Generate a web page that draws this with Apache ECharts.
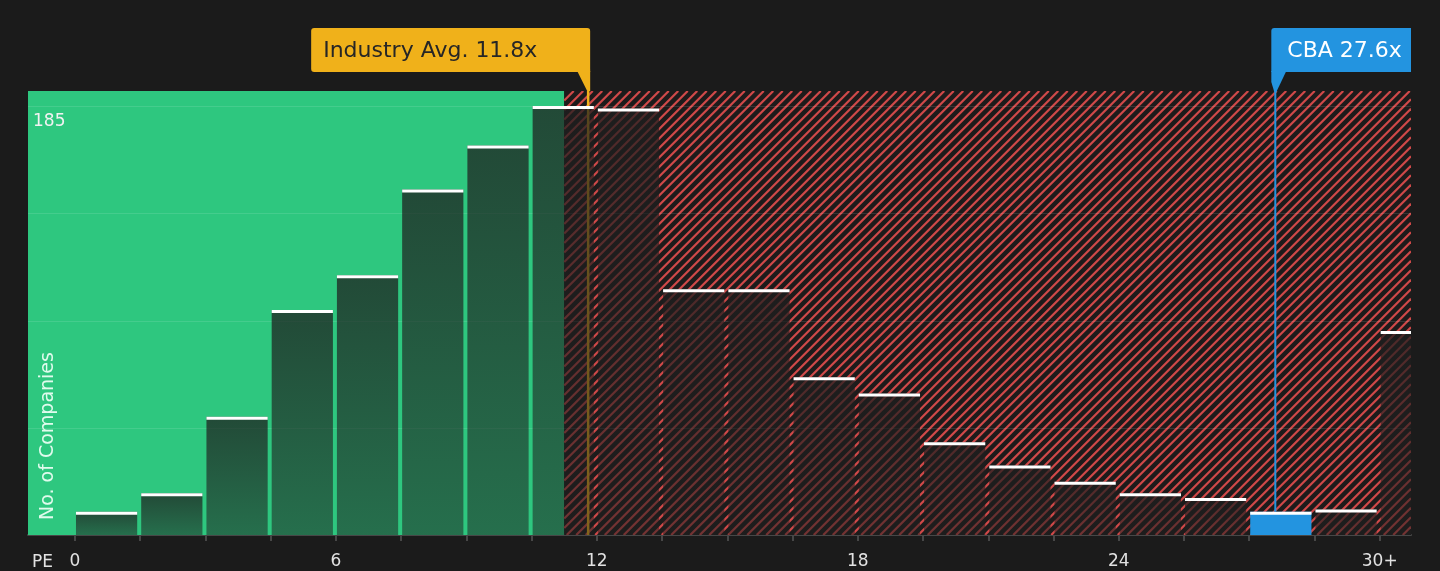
<!DOCTYPE html>
<html>
<head>
<meta charset="utf-8">
<script src="https://cdn.jsdelivr.net/npm/echarts@6/dist/echarts.min.js"></script>
<style>
  html, body { margin: 0; padding: 0; background: #1b1b1b; }
  #chart { width: 1440px; height: 571px; }
</style>
</head>
<body>
<div id="chart"></div>
<script>
// ---- data ----
const binStarts = [0, 1.5, 3, 4.5, 6, 7.5, 9, 10.5, 12, 13.5, 15, 16.5, 18, 19.5, 21, 22.5, 24, 25.5, 27, 28.5, 30];
const binWidth = 1.5;
const companyCounts = [10, 18, 51, 97, 112, 149, 168, 185, 184, 106, 106, 68, 61, 40, 30, 23, 18, 16, 10, 11, 88];
const industryAvg = 11.8;
const companyName = 'CBA';
const companyPE = 27.6;
const greenZoneEnd = 11.25;
const xAxisMin = -1.08;
const xAxisMax = 30.72;
const yAxisMax = 191.5;
const yGridValues = [46.25, 92.5, 138.75, 185];
const yLabelValues = [185];
const xTickValues = [0, 1.5, 3, 4.5, 6, 7.5, 9, 10.5, 12, 13.5, 15, 16.5, 18, 19.5, 21, 22.5, 24, 25.5, 27, 28.5, 30];
const xLabelValues = [0, 6, 12, 18, 24, 30];
const xLabelTexts = ['0', '6', '12', '18', '24', '30+'];

const FONT = 'DejaVu Sans';
const GREEN = '#2ec77f';
const HATCH = '#d04949';
const GOLD = '#f0b11a';
const BLUE = '#2394e0';
const HATCH_STEP = 9.5;

const companyBin = binStarts.findIndex(s => companyPE >= s && companyPE < s + binWidth);
const barData = binStarts.map((s, i) => [s, s + binWidth, companyCounts[i], i === companyBin ? 1 : 0]);

function hatchLines(x0, y0, w, h) {
  const out = [];
  const x1 = x0 + w;
  for (let k = 0; k <= w + h; k += HATCH_STEP) {
    const a = x0 - h + k;
    const tMin = Math.max(0, (x0 - a) / h);
    const tMax = Math.min(1, (x1 - a) / h);
    if (tMin < tMax) {
      out.push({
        type: 'line',
        shape: { x1: a + tMin * h, y1: y0 + h - tMin * h, x2: a + tMax * h, y2: y0 + h - tMax * h },
        style: { stroke: HATCH, lineWidth: 2.2 }
      });
    }
  }
  return out;
}

const chart = echarts.init(document.getElementById('chart'));

chart.setOption({
  backgroundColor: '#1b1b1b',
  animation: false,
  grid: { left: 28, right: 29, top: 91, bottom: 36, containLabel: false },
  xAxis: {
    type: 'value', min: xAxisMin, max: xAxisMax,
    axisLine: { show: true, lineStyle: { color: '#474747', width: 2 } },
    axisTick: { show: true, customValues: xTickValues, length: 6, lineStyle: { color: '#474747', width: 2 } },
    axisLabel: {
      show: true, customValues: xLabelValues, margin: 18,
      color: '#e2e2e2', fontSize: 17, fontFamily: FONT,
      formatter: v => { const i = xLabelValues.indexOf(v); return i >= 0 ? xLabelTexts[i] : ''; }
    },
    splitLine: { show: false }
  },
  yAxis: {
    type: 'value', min: 0, max: yAxisMax, z: 20,
    axisLine: { show: false }, axisTick: { show: false }, splitLine: { show: false },
    axisLabel: {
      show: true, inside: true, customValues: yLabelValues, margin: 5,
      verticalAlign: 'top', padding: [7, 0, 0, 0],
      color: '#f2f2f2', fontSize: 17, fontFamily: FONT
    }
  },
  series: [
    {
      type: 'custom', z: 1, clip: true, silent: true,
      data: [[xAxisMin, greenZoneEnd, 0], [greenZoneEnd, xAxisMax, 1]],
      renderItem: (params, api) => {
        const p0 = api.coord([api.value(0), yAxisMax]);
        const p1 = api.coord([api.value(1), 0]);
        const x = p0[0], y = p0[1], w = p1[0] - p0[0], h = p1[1] - p0[1];
        if (api.value(2) === 0) {
          return { type: 'rect', shape: { x: x, y: y, width: w, height: h }, style: { fill: GREEN } };
        }
        return {
          type: 'group',
          children: [{ type: 'rect', shape: { x: x, y: y, width: w, height: h }, style: { fill: '#1d1b1b' } }]
            .concat(hatchLines(x, y, w, h))
        };
      }
    },
    {
      type: 'custom', z: 2, clip: true, silent: true,
      data: yGridValues.map(v => [0, v]),
      encode: { x: 0, y: 1 },
      renderItem: (params, api) => {
        const a = api.coord([xAxisMin, api.value(1)]);
        const b = api.coord([xAxisMax, api.value(1)]);
        return {
          type: 'line',
          shape: { x1: a[0], y1: Math.round(a[1]) + 0.5, x2: b[0], y2: Math.round(b[1]) + 0.5 },
          style: { stroke: 'rgba(255,255,255,0.11)', lineWidth: 1 }
        };
      }
    },
    {
      type: 'custom', z: 3, clip: false, silent: true,
      data: [[industryAvg, 0]],
      renderItem: (params, api) => {
        const a = api.coord([api.value(0), 0]);
        const b = api.coord([api.value(0), yAxisMax]);
        return {
          type: 'line',
          shape: { x1: a[0], y1: a[1], x2: b[0], y2: b[1] },
          style: { stroke: GOLD, lineWidth: 2.5 }
        };
      }
    },
    {
      type: 'custom', z: 4, clip: true, silent: true,
      data: barData,
      renderItem: (params, api) => {
        const s = api.value(0), e = api.value(1), v = api.value(2), hl = api.value(3);
        const p0 = api.coord([s, v]);
        const p1 = api.coord([e, 0]);
        const x = p0[0] + 1;
        const w = p1[0] - p0[0] - 4;
        const y = p0[1];
        const h = p1[1] - p0[1];
        const bodyFill = hl ? BLUE : new echarts.graphic.LinearGradient(0, 0, 0, 1, [
          { offset: 0, color: 'rgba(30,30,30,0.74)' },
          { offset: 1, color: 'rgba(30,30,30,0.52)' }
        ]);
        return {
          type: 'group',
          children: [
            { type: 'rect', shape: { x: x, y: y, width: w, height: h }, style: { fill: bodyFill } },
            { type: 'rect', shape: { x: x, y: y, width: w, height: 3 }, style: { fill: '#ffffff' } }
          ]
        };
      }
    },
    {
      type: 'custom', z: 5, clip: false, silent: true,
      data: [[companyPE, companyCounts[companyBin]]],
      renderItem: (params, api) => {
        const a = api.coord([api.value(0), api.value(1)]);
        const b = api.coord([api.value(0), yAxisMax]);
        return {
          type: 'line',
          shape: { x1: a[0], y1: a[1], x2: b[0], y2: b[1] },
          style: { stroke: BLUE, lineWidth: 2 }
        };
      }
    }
  ]
});

// ---- annotations placed through the axis scales ----
const avgX = chart.convertToPixel({ xAxisIndex: 0 }, industryAvg);
const peX = chart.convertToPixel({ xAxisIndex: 0 }, companyPE);
const gridTop = chart.convertToPixel({ yAxisIndex: 0 }, yAxisMax);
const gridBottom = chart.convertToPixel({ yAxisIndex: 0 }, 0);
const gridLeft = chart.convertToPixel({ xAxisIndex: 0 }, xAxisMin);
const gridRight = chart.convertToPixel({ xAxisIndex: 0 }, xAxisMax);
const boxBottom = gridTop - 19;
const boxTop = boxBottom - 44;

const avgBoxRight = avgX + 2;
const avgBoxLeft = avgBoxRight - 279;
const cbaBoxLeft = peX - 4;

chart.setOption({
  graphic: [
    {
      type: 'rect', z: 100,
      shape: { x: avgBoxLeft, y: boxTop, width: avgBoxRight - avgBoxLeft, height: 44, r: [3, 3, 0, 3] },
      style: { fill: GOLD }
    },
    {
      type: 'polygon', z: 100,
      shape: { points: [[avgX - 11, boxBottom - 1], [avgX + 2, boxBottom - 1], [avgX + 2, gridTop], [avgX - 1, gridTop]] },
      style: { fill: GOLD }
    },
    {
      type: 'text', z: 101, x: avgBoxLeft + 12, y: boxTop + 23,
      style: { text: 'Industry Avg. ' + industryAvg.toFixed(1) + 'x', fill: '#262626', font: '22px "' + FONT + '"', align: 'left', verticalAlign: 'middle' }
    },
    {
      type: 'rect', z: 100,
      shape: { x: cbaBoxLeft, y: boxTop, width: gridRight - cbaBoxLeft, height: 44, r: [3, 0, 0, 0] },
      style: { fill: BLUE }
    },
    {
      type: 'polygon', z: 100,
      shape: { points: [[cbaBoxLeft, boxBottom - 1], [cbaBoxLeft + 15, boxBottom - 1], [peX + 1, gridTop + 1], [peX - 1, gridTop + 1], [cbaBoxLeft, boxBottom + 10]] },
      style: { fill: BLUE }
    },
    {
      type: 'text', z: 101, x: cbaBoxLeft + 16, y: boxTop + 23,
      style: { text: companyName + ' ' + companyPE.toFixed(1) + 'x', fill: '#ffffff', font: '22px "' + FONT + '"', align: 'left', verticalAlign: 'middle' }
    },
    {
      type: 'text', z: 101, x: gridLeft + 20, y: gridBottom - 15, rotation: Math.PI / 2,
      style: { text: 'No. of Companies', fill: 'rgba(240,255,246,0.92)', font: '19px "' + FONT + '"', align: 'left', verticalAlign: 'middle' }
    },
    {
      type: 'text', z: 101, x: gridLeft + 4, y: gridBottom + 28,
      style: { text: 'PE', fill: '#e2e2e2', font: '17px "' + FONT + '"', align: 'left', verticalAlign: 'middle' }
    }
  ]
});
</script>
</body>
</html>
